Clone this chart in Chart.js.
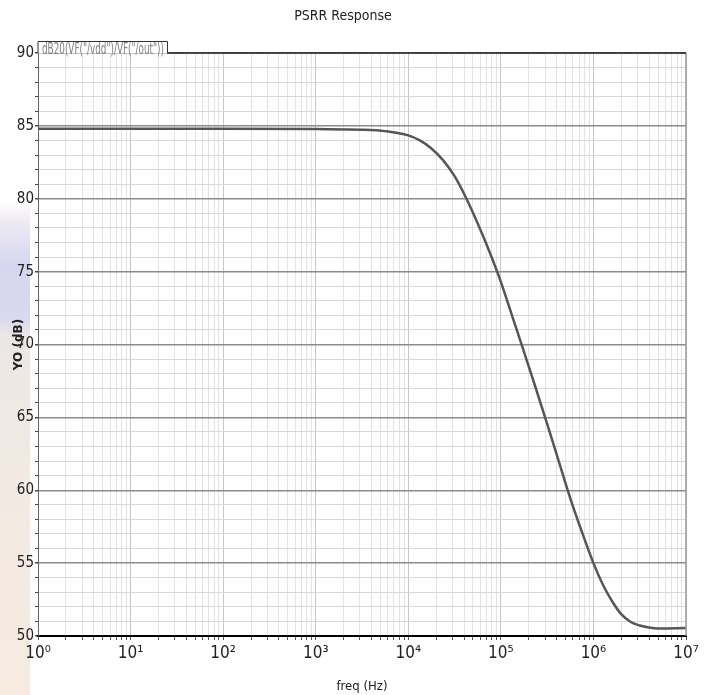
<!DOCTYPE html>
<html>
<head>
<meta charset="utf-8">
<title>PSRR Response</title>
<script src="https://cdn.jsdelivr.net/npm/chart.js@4.4.1/dist/chart.umd.min.js"></script>
<style>
  html, body { margin: 0; padding: 0; background: #fff; }
  #wrap {
    position: relative; width: 705px; height: 695px;
    background: linear-gradient(to bottom, #fff 0px, #fff 200px, #eeeaf4 222px, #d6d6f0 265px, #d8d8ef 318px, #ebe7e6 335px, #f0e9e3 420px, #f7ebe0 695px) no-repeat;
    background-size: 30px 695px;
  }
  canvas { position: absolute; left: 0; top: 0; }
</style>
</head>
<body>
<div id="wrap"><canvas id="psrr" width="705" height="695"></canvas></div>
<script>
'use strict';
// frequency points (Hz) and PSRR (dB)
var freq = [1, 10, 100, 1000, 3162, 5623, 10000, 13335, 17783, 23714, 31623, 42170, 56234, 74989,
  100000, 133352, 177828, 237137, 316228, 421697, 562341, 749894, 1000000, 1258925, 1584893,
  1995262, 2511886, 3162278, 3981072, 5011872, 10000000];
var psrr = [84.8, 84.8, 84.8, 84.78, 84.74, 84.64, 84.35, 84.0, 83.45, 82.65, 81.55, 80.05, 78.3, 76.4,
  74.3, 71.9, 69.5, 67.05, 64.55, 62.0, 59.45, 57.15, 55.0, 53.55, 52.4,
  51.5, 50.98, 50.72, 50.58, 50.52, 50.55];
var sup = ['\u2070', '\u00B9', '\u00B2', '\u00B3', '\u2074', '\u2075', '\u2076', '\u2077'];
var legendText = 'dB20(VF("/vdd")/VF("/out"))';

var narrow = "'Liberation Sans Narrow', 'DejaVu Sans Condensed', sans-serif";

function isDecade(v) {
  var l = Math.log10(v);
  return Math.abs(l - Math.round(l)) < 1e-9;
}

var frame = {
  id: 'frame',
  afterDraw: function(chart) {
    var ctx = chart.ctx;
    var a = chart.chartArea;
    var boxRight = 167, boxTop = 41;
    ctx.save();
    // right border
    ctx.strokeStyle = '#9a9a9a';
    ctx.lineWidth = 1.5;
    ctx.beginPath();
    ctx.moveTo(a.right, a.top);
    ctx.lineTo(a.right, a.bottom);
    ctx.stroke();
    // top border
    ctx.strokeStyle = '#222';
    ctx.beginPath();
    ctx.moveTo(boxRight, a.top);
    ctx.lineTo(a.right, a.top);
    ctx.stroke();
    // legend tab
    ctx.lineWidth = 1;
    ctx.strokeStyle = '#333';
    ctx.fillStyle = '#fff';
    ctx.fillRect(a.left, boxTop, boxRight - a.left, a.top - boxTop);
    ctx.beginPath();
    ctx.moveTo(a.left, a.top);
    ctx.lineTo(a.left, boxTop + 0.5);
    ctx.lineTo(boxRight + 0.5, boxTop + 0.5);
    ctx.lineTo(boxRight + 0.5, a.top);
    ctx.stroke();
    ctx.fillStyle = '#808080';
    ctx.font = '15px ' + narrow;
    ctx.textBaseline = 'middle';
    ctx.fillText(legendText, a.left + 4, 50, boxRight - a.left - 7);
    ctx.restore();
  }
};

new Chart(document.getElementById('psrr'), {
  type: 'line',
  data: {
    labels: freq,
    datasets: [{
      label: legendText,
      data: freq.map(function(f, i) { return {x: f, y: psrr[i]}; }),
      borderColor: '#565656',
      borderWidth: 2.5,
      pointRadius: 0,
      fill: false,
      cubicInterpolationMode: 'monotone'
    }]
  },
  options: {
    responsive: false,
    animation: false,
    layout: {padding: {left: 0, right: 19, top: 0, bottom: 0}},
    plugins: {
      legend: {display: false},
      tooltip: {enabled: false},
      title: {
        display: true,
        text: 'PSRR Response',
        color: '#222',
        font: {family: narrow, size: 14, weight: 'normal'},
        padding: {top: 8, bottom: 28.2}
      }
    },
    scales: {
      x: {
        type: 'logarithmic',
        min: 1,
        max: 10000000,
        afterBuildTicks: function(scale) {
          var t = [];
          for (var d = 0; d < 7; d++) {
            for (var m = 1; m < 10; m++) t.push({value: m * Math.pow(10, d)});
          }
          t.push({value: 10000000});
          scale.ticks = t;
        },
        afterFit: function(scale) { scale.height = 59; },
        border: {color: '#000', width: 2},
        grid: {
          color: function(c) { return c.tick && isDecade(c.tick.value) ? '#c6c6c6' : '#e4e4e4'; },
          lineWidth: 1,
          tickLength: 4,
          tickColor: '#555'
        },
        ticks: {
          autoSkip: false,
          maxRotation: 0,
          padding: 3,
          color: '#222',
          font: {family: narrow, size: 17},
          callback: function(v) {
            if (!isDecade(v)) return '';
            return '10' + sup[Math.round(Math.log10(v))];
          }
        },
        title: {
          display: true,
          text: 'freq (Hz)',
          color: '#222',
          font: {family: narrow, size: 13},
          padding: {top: 0, bottom: 1}
        }
      },
      y: {
        min: 50,
        max: 90,
        afterFit: function(scale) { scale.width = 38; },
        border: {color: '#666', width: 1},
        grid: {
          color: function(c) { return c.tick && c.tick.value % 5 === 0 ? '#8c8c8c' : '#d8d8d8'; },
          lineWidth: function(c) { return c.tick && c.tick.value % 5 === 0 ? 1.5 : 1; },
          tickLength: 3,
          tickColor: '#444'
        },
        ticks: {
          stepSize: 1,
          autoSkip: false,
          padding: 1,
          color: '#222',
          font: {family: narrow, size: 15},
          callback: function(v) { return v % 5 === 0 ? String(v) : ''; }
        },
        title: {
          display: true,
          text: 'YO (dB)',
          color: '#222',
          font: {family: "'DejaVu Sans', sans-serif", size: 12, weight: 'bold'},
          padding: {top: 12, bottom: 0}
        }
      }
    }
  },
  plugins: [frame]
});
</script>
</body>
</html>
